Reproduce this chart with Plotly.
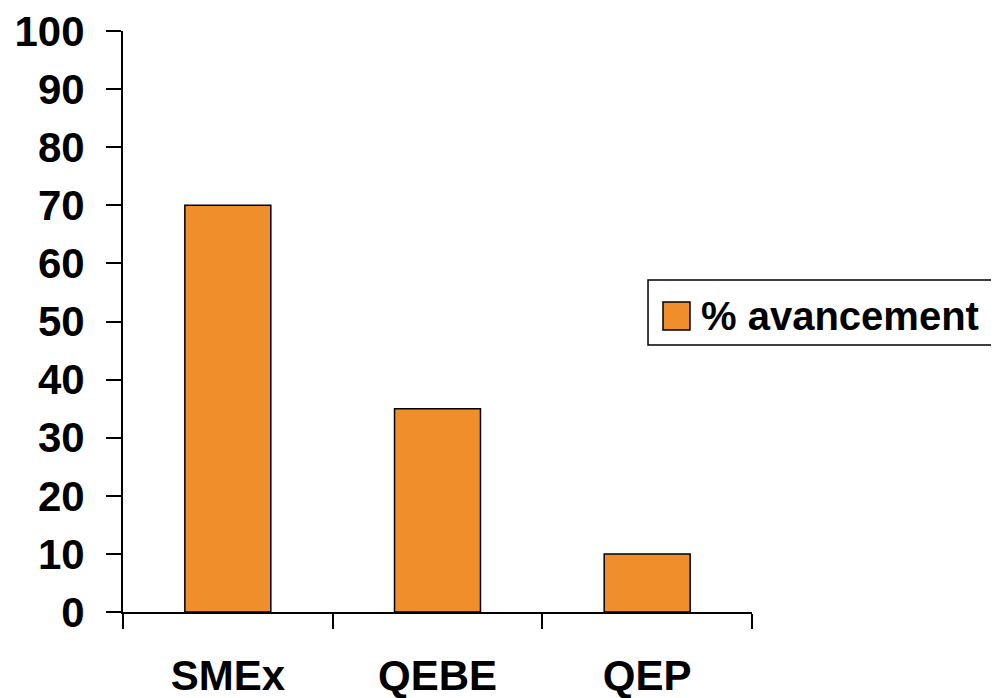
import plotly.graph_objects as go

categories = ["SMEx", "QEBE", "QEP"]
values = [70, 35, 10]
series_name = "% avancement"
y_ticks = [0, 10, 20, 30, 40, 50, 60, 70, 80, 90, 100]

FONT = "Liberation Sans, Arial, sans-serif"
ORANGE = "#F08E2C"

fig = go.Figure()
fig.add_trace(go.Bar(
    x=categories, y=values, name=series_name,
    marker=dict(color=ORANGE, line=dict(color="black", width=1.5)),
    showlegend=False,
))

# custom legend (box, swatch, label) in plot-area paper coordinates
fig.add_shape(type="rect", xref="paper", yref="paper",
              x0=0.8347, x1=1.40, y0=0.4596, y1=0.5714,
              line=dict(color="black", width=1.5), fillcolor="white")
fig.add_shape(type="rect", xref="paper", yref="paper",
              x0=0.8585, x1=0.9014, y0=0.4854, y1=0.5336,
              line=dict(color="black", width=1.5), fillcolor=ORANGE)
fig.add_annotation(xref="paper", yref="paper", x=0.9165, y=0.5095,
                   xanchor="left", yanchor="middle", showarrow=False,
                   text=series_name,
                   font=dict(family=FONT, size=40, color="black", weight="bold"))

fig.update_layout(
    width=991, height=690,
    margin=dict(l=115, r=247, t=23, b=86),
    paper_bgcolor="white", plot_bgcolor="white",
    bargap=0.59,
    font=dict(family=FONT, size=42, color="black", weight="bold"),
    showlegend=False,
    xaxis=dict(
        type="category", tickson="boundaries", automargin=False,
        showline=True, linecolor="black", linewidth=2,
        ticks="outside", ticklen=15, tickwidth=2, tickcolor="black",
        ticklabelstandoff=26, ticklabeloverflow="allow",
        showgrid=False, zeroline=False,
        tickfont=dict(family=FONT, size=42, color="black", weight="bold"),
    ),
    yaxis=dict(
        range=[0, 100], tickvals=y_ticks, automargin=False,
        showline=True, linecolor="black", linewidth=2,
        ticks="outside", ticklen=15, tickwidth=2, tickcolor="black",
        ticklabelstandoff=13, ticklabeloverflow="allow",
        showgrid=False, zeroline=False,
        tickfont=dict(family=FONT, size=42, color="black", weight="bold"),
    ),
)

fig.write_html("out.html")
